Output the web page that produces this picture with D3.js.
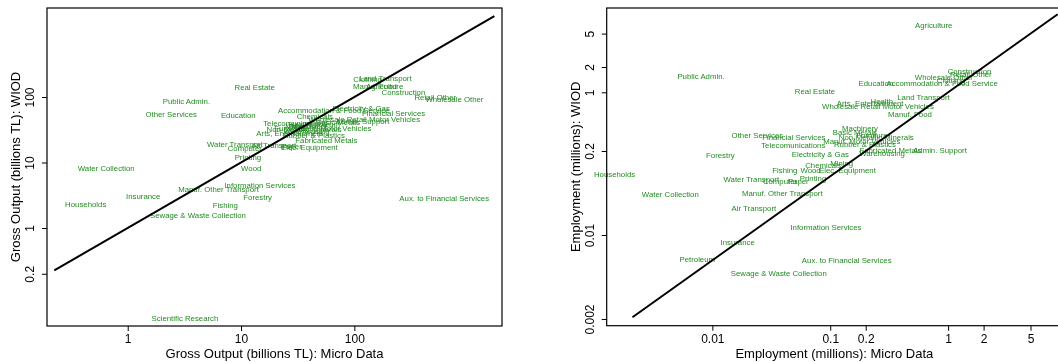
<!DOCTYPE html>
<html>
<head>
<meta charset="utf-8">
<script src="https://cdn.jsdelivr.net/npm/d3@7"></script>
<style>
  html, body { margin: 0; padding: 0; background: #fff; }
  svg { display: block; font-family: "Liberation Sans", Arial, Helvetica, sans-serif; }
  .sector-labels { opacity: 0.999; will-change: transform; }
</style>
</head>
<body>
<svg id="chart" width="1058" height="362"></svg>
<script>
// ---- Gross output (billions TL) ----
const grossSectors = [
  "Real Estate", "Public Admin.", "Other Services", "Education", "Water Collection",
  "Households", "Insurance", "Manuf. Other Transport", "Information Services", "Forestry",
  "Fishing", "Sewage & Waste Collection", "Scientific Research", "Aux. to Financial Services",
  "Water Transport", "Computer", "Printing", "Wood", "Elec. Equipment", "Paper", "Air Transport",
  "Land Transport", "Clothing", "Manuf. Food", "Agriculture", "Construction", "Retail Other",
  "Wholesale Other", "Accommodation & Food Service", "Electricity & Gas", "Financial Services",
  "Wholesale Retail Motor Vehicles", "Admin. Support", "Chemicals", "Telecomunications",
  "Manuf. Motor Vehicles", "Arts, Entertainment", "Rubber & Plastics", "Fabricated Metals",
  "Health", "Basic Metals", "Machinery", "Non-Metallic Minerals", "Furniture", "Warehousing",
  "Mining", "Petroleum"
];
const grossMicro = [
  13.2, 3.30, 2.42, 9.45, 0.646,
  0.426, 1.37, 6.33, 14.7, 14.0,
  7.27, 4.17, 3.20, 621,
  8.82, 10.8, 11.5, 12.3, 40.1, 27.8, 19.5,
  188, 131, 152, 185, 271, 518,
  764, 65.8, 115, 222,
  122, 118, 44.8, 30.1,
  64.6, 26.9, 43.9, 56.6,
  33, 72, 40, 36, 27, 38,
  31, 52
];
const grossWiod = [
  140, 86.9, 54.5, 52.5, 8.15,
  2.30, 3.05, 3.90, 4.38, 2.94,
  2.22, 1.56, 0.0418, 2.84,
  19.0, 16.5, 12.0, 8.15, 17.1, 17.4, 18.0,
  193, 188, 146, 146, 118, 98.9,
  92.2, 62.7, 67.2, 56.4,
  44.6, 42.0, 50.0, 39.6,
  33.6, 27.9, 26.3, 21.8,
  38, 41, 35, 32, 33, 30,
  36, 38
];
const grossXTicks = [1, 10, 100];
const grossYTicks = [0.2, 1, 10, 100];
const grossDiagonal = [0.225, 1720];

// ---- Employment (millions) ----
const empSectors = [
  "Agriculture", "Public Admin.", "Real Estate", "Education", "Accommodation & Food Service",
  "Clothing", "Construction", "Retail Other", "Wholesale Other", "Land Transport", "Health",
  "Arts, Entertainment", "Wholesale Retail Motor Vehicles", "Manuf. Food", "Machinery",
  "Basic Metals", "Non-Metallic Minerals", "Furniture", "Manuf. Motor Vehicles",
  "Rubber & Plastics", "Fabricated Metals", "Admin. Support", "Warehousing", "Other Services",
  "Financial Services", "Telecomunications", "Electricity & Gas", "Forestry", "Chemicals",
  "Mining", "Fishing", "Wood", "Elec. Equipment", "Water Transport", "Computer", "Paper",
  "Printing", "Manuf. Other Transport", "Air Transport", "Households", "Water Collection",
  "Information Services", "Insurance", "Petroleum", "Aux. to Financial Services",
  "Sewage & Waste Collection"
];
const empMicro = [
  0.755, 0.00802, 0.0743, 0.244, 0.89,
  1.06, 1.52, 1.56, 0.92, 0.618, 0.274,
  0.218, 0.254, 0.475, 0.179,
  0.162, 0.246, 0.226, 0.185,
  0.197, 0.324, 0.853, 0.275, 0.0241,
  0.0491, 0.0486, 0.0824, 0.0117, 0.0875,
  0.125, 0.0412, 0.0681, 0.140, 0.0214, 0.0375, 0.0536,
  0.0715, 0.0392, 0.0225, 0.00148, 0.0044,
  0.092, 0.0164, 0.00745, 0.138,
  0.0366
];
const empWiod = [
  6.33, 1.55, 1.03, 1.29, 1.29,
  1.40, 1.79, 1.65, 1.51, 0.879, 0.787,
  0.726, 0.687, 0.547, 0.373,
  0.334, 0.291, 0.310, 0.258,
  0.236, 0.202, 0.204, 0.188, 0.308,
  0.291, 0.230, 0.183, 0.178, 0.134,
  0.143, 0.118, 0.116, 0.118, 0.092, 0.0862, 0.0862,
  0.0947, 0.0616, 0.0416, 0.1036, 0.0599,
  0.0247, 0.0161, 0.0101, 0.0100,
  0.0070
];
const empXTicks = [0.01, 0.1, 0.2, 1, 2, 5];
const empYTicks = [0.002, 0.02, 0.2, 1, 2, 5];
const empYTickLabels = ["0.002", "0.01", "0.2", "1", "2", "5"];
const empDiagonal = [0.0021, 8.5];

const svg = d3.select("#chart");
const labelColor = "#228B22";

function panel(opts) {
  const x = d3.scaleLog().domain(opts.xDomain).range(opts.xRange);
  const y = d3.scaleLog().domain(opts.yDomain).range(opts.yRange);
  const g = svg.append("g");
  const [x0, x1] = opts.xRange, [y0, y1] = [opts.yRange[1], opts.yRange[0]];

  // sector labels placed at their (micro, WIOD) values
  g.append("g").attr("class", "sector-labels").selectAll("text")
    .data(opts.names.map((n, i) => ({ n, a: opts.xs[i], b: opts.ys[i] })))
    .join("text")
    .attr("x", d => x(d.a))
    .attr("y", d => y(d.b))
    .attr("text-anchor", "middle")
    .attr("dominant-baseline", "central")
    .attr("font-size", 7.8)
    .attr("fill", labelColor)
    .text(d => d.n);

  // 45-degree reference line
  g.append("line")
    .attr("x1", x(opts.diag[0])).attr("y1", y(opts.diag[0]))
    .attr("x2", x(opts.diag[1])).attr("y2", y(opts.diag[1]))
    .attr("stroke", "#000").attr("stroke-width", 2);

  // frame
  g.append("rect")
    .attr("x", x0).attr("y", y0)
    .attr("width", x1 - x0).attr("height", y1 - y0)
    .attr("fill", "none").attr("stroke", "#000").attr("stroke-width", 1.2);

  // axes
  const xAxis = d3.axisBottom(x).tickValues(opts.xTicks).tickSize(5).tickPadding(4)
    .tickFormat(d => String(d));
  g.append("g").attr("transform", `translate(0,${y1})`).call(xAxis)
    .call(s => s.select(".domain").remove())
    .call(s => s.selectAll("text").attr("font-size", 12).attr("fill", "#000")
      .attr("font-family", null).attr("dy", null).attr("y", 13)
      .attr("dominant-baseline", "central"));

  const yLabels = opts.yTickLabels || opts.yTicks.map(String);
  const yAxis = d3.axisLeft(y).tickValues(opts.yTicks).tickSize(5)
    .tickFormat((d, i) => yLabels[i]);
  g.append("g").attr("transform", `translate(${x0},0)`).call(yAxis)
    .call(s => s.select(".domain").remove())
    .call(s => s.selectAll("text").attr("font-size", 12).attr("fill", "#000")
      .attr("font-family", null).attr("dy", null).attr("x", null)
      .attr("text-anchor", "middle").attr("dominant-baseline", "central")
      .attr("transform", `translate(${opts.yTickX - x0},0) rotate(-90)`));
  g.selectAll(".tick line").attr("stroke", "#000");

  g.append("text")
    .attr("x", (x0 + x1) / 2).attr("y", opts.xTitleY)
    .attr("text-anchor", "middle").attr("dominant-baseline", "central")
    .attr("font-size", 13).text(opts.xTitle);
  g.append("text")
    .attr("transform", `translate(${opts.yTitleX},${(y0 + y1) / 2}) rotate(-90)`)
    .attr("text-anchor", "middle").attr("dominant-baseline", "central")
    .attr("font-size", 13).text(opts.yTitle);
}

panel({
  names: grossSectors, xs: grossMicro, ys: grossWiod,
  xDomain: [0.194, 2009], xRange: [47, 502],
  yDomain: [0.0319, 2286], yRange: [326, 8],
  xTicks: grossXTicks, yTicks: grossYTicks, diag: grossDiagonal,
  xTitle: "Gross Output (billions TL): Micro Data",
  yTitle: "Gross Output (billions TL): WIOD",
  xTitleY: 353, yTitleX: 15, yTickX: 30
});

panel({
  names: empSectors, xs: empMicro, ys: empWiod,
  xDomain: [0.00127, 9.25], xRange: [606.7, 1062],
  yDomain: [0.001663, 10.09], yRange: [325.7, 8],
  xTicks: empXTicks, yTicks: empYTicks, yTickLabels: empYTickLabels, diag: empDiagonal,
  xTitle: "Employment (millions): Micro Data",
  yTitle: "Employment (millions): WIOD",
  xTitleY: 353, yTitleX: 575, yTickX: 590
});
</script>
</body>
</html>
